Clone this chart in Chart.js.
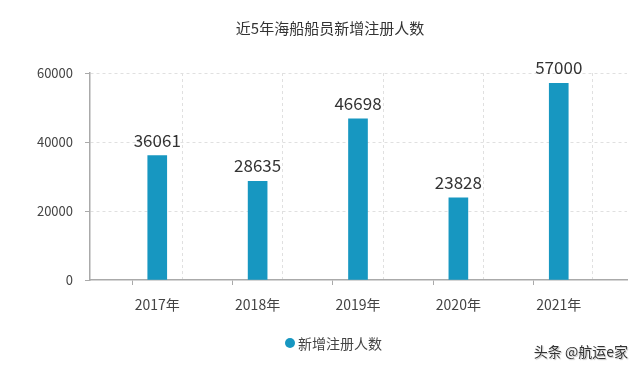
<!DOCTYPE html>
<html>
<head>
<meta charset="utf-8">
<script src="https://cdn.jsdelivr.net/npm/chart.js@4/dist/chart.umd.min.js"></script>
<style>
  html, body { margin: 0; padding: 0; background: #fff; }
  #wrap { position: relative; width: 640px; height: 372px; }
  #mycanvas { display: block; }
  #mark {
    position: absolute; right: 12px; top: 341px;
    font: 14px "Noto Sans CJK SC", sans-serif; color: #333;
    text-shadow: 0 0 1px #fff, 1px 1px 1px #bbb;
  }
</style>
</head>
<body>
<div id="wrap">
  <canvas id="mycanvas" width="640" height="372"></canvas>
  <div id="mark">头条 @航运e家</div>
</div>
<script>
var years = ['2017年', '2018年', '2019年', '2020年', '2021年'];
var registered = [36061, 28635, 46698, 23828, 57000];
var yTicks = [0, 20000, 40000, 60000];

var chartTitle = '近5年海船船员新增注册人数';
var seriesName = '新增注册人数';
var barColor = '#1797c1';
var font = '"Noto Sans CJK SC", "Noto Sans", sans-serif';

function isCenter(c) {
  return c.tick && Number.isInteger(c.tick.value);
}

// title, legend and value labels drawn by hand
var extras = {
  id: 'extras',
  afterDatasetsDraw: function(chart) {
    var ctx = chart.ctx;
    var meta = chart.getDatasetMeta(0);
    ctx.save();
    ctx.fillStyle = '#333';
    ctx.font = '17px ' + font;
    ctx.textAlign = 'center';
    ctx.textBaseline = 'alphabetic';
    meta.data.forEach(function(bar, i) {
      ctx.fillText(String(registered[i]), bar.x, bar.y - 9);
    });

    ctx.font = '15px ' + font;
    ctx.textBaseline = 'middle';
    ctx.fillText(chartTitle, 330, 28);

    ctx.fillStyle = barColor;
    ctx.beginPath();
    ctx.arc(290, 343, 5, 0, Math.PI * 2);
    ctx.fill();
    ctx.fillStyle = '#444';
    ctx.font = '14px ' + font;
    ctx.textAlign = 'left';
    ctx.fillText(seriesName, 298, 344);
    ctx.restore();
  }
};

var ctx = document.getElementById('mycanvas');
var chart = new Chart(ctx, {
  type: 'bar',
  data: {
    datasets: [{
      label: seriesName,
      backgroundColor: barColor,
      barThickness: 19,
      data: registered.map(function(v, i) { return { x: i, y: v }; })
    }]
  },
  options: {
    responsive: false,
    animation: false,
    layout: { padding: { top: 73, right: 13, bottom: 52, left: 0 } },
    plugins: {
      legend: { display: false },
      title: { display: false },
      tooltip: { enabled: false }
    },
    scales: {
      x: {
        type: 'linear',
        min: -0.67,
        max: 4.68,
        offset: false,
        afterBuildTicks: function(axis) {
          axis.ticks = [0, 0.5, 1, 1.5, 2, 2.5, 3, 3.5, 4, 4.68].map(function(v) { return { value: v }; });
        },
        afterFit: function(axis) { axis.height = 40; },
        border: { color: '#aaa', width: 1.5, dash: [3, 3] },
        grid: {
          color: function(c) { return isCenter(c) ? 'rgba(0,0,0,0)' : '#e0e0e0'; },
          tickColor: function(c) { return isCenter(c) ? '#aaa' : 'rgba(0,0,0,0)'; },
          tickLength: 5
        },
        ticks: {
          autoSkip: false,
          maxRotation: 0,
          padding: 11,
          color: '#444',
          font: { family: font, size: 14 },
          callback: function(v) { return Number.isInteger(v) ? years[v] : ''; }
        }
      },
      y: {
        min: 0,
        max: 60000,
        afterBuildTicks: function(axis) {
          axis.ticks = yTicks.map(function(v) { return { value: v }; });
        },
        afterFit: function(axis) { axis.width = 90; },
        border: { color: '#aaa', width: 1.5, dash: [3, 3] },
        grid: {
          color: function(c) { return c.tick && c.tick.value === 0 ? 'rgba(0,0,0,0)' : '#e0e0e0'; },
          tickColor: '#aaa',
          tickLength: 5
        },
        ticks: {
          padding: 12,
          color: '#444',
          font: { family: font, size: 13 },
          callback: function(v) { return String(v); }
        }
      }
    }
  },
  plugins: [extras]
});
</script>
</body>
</html>
